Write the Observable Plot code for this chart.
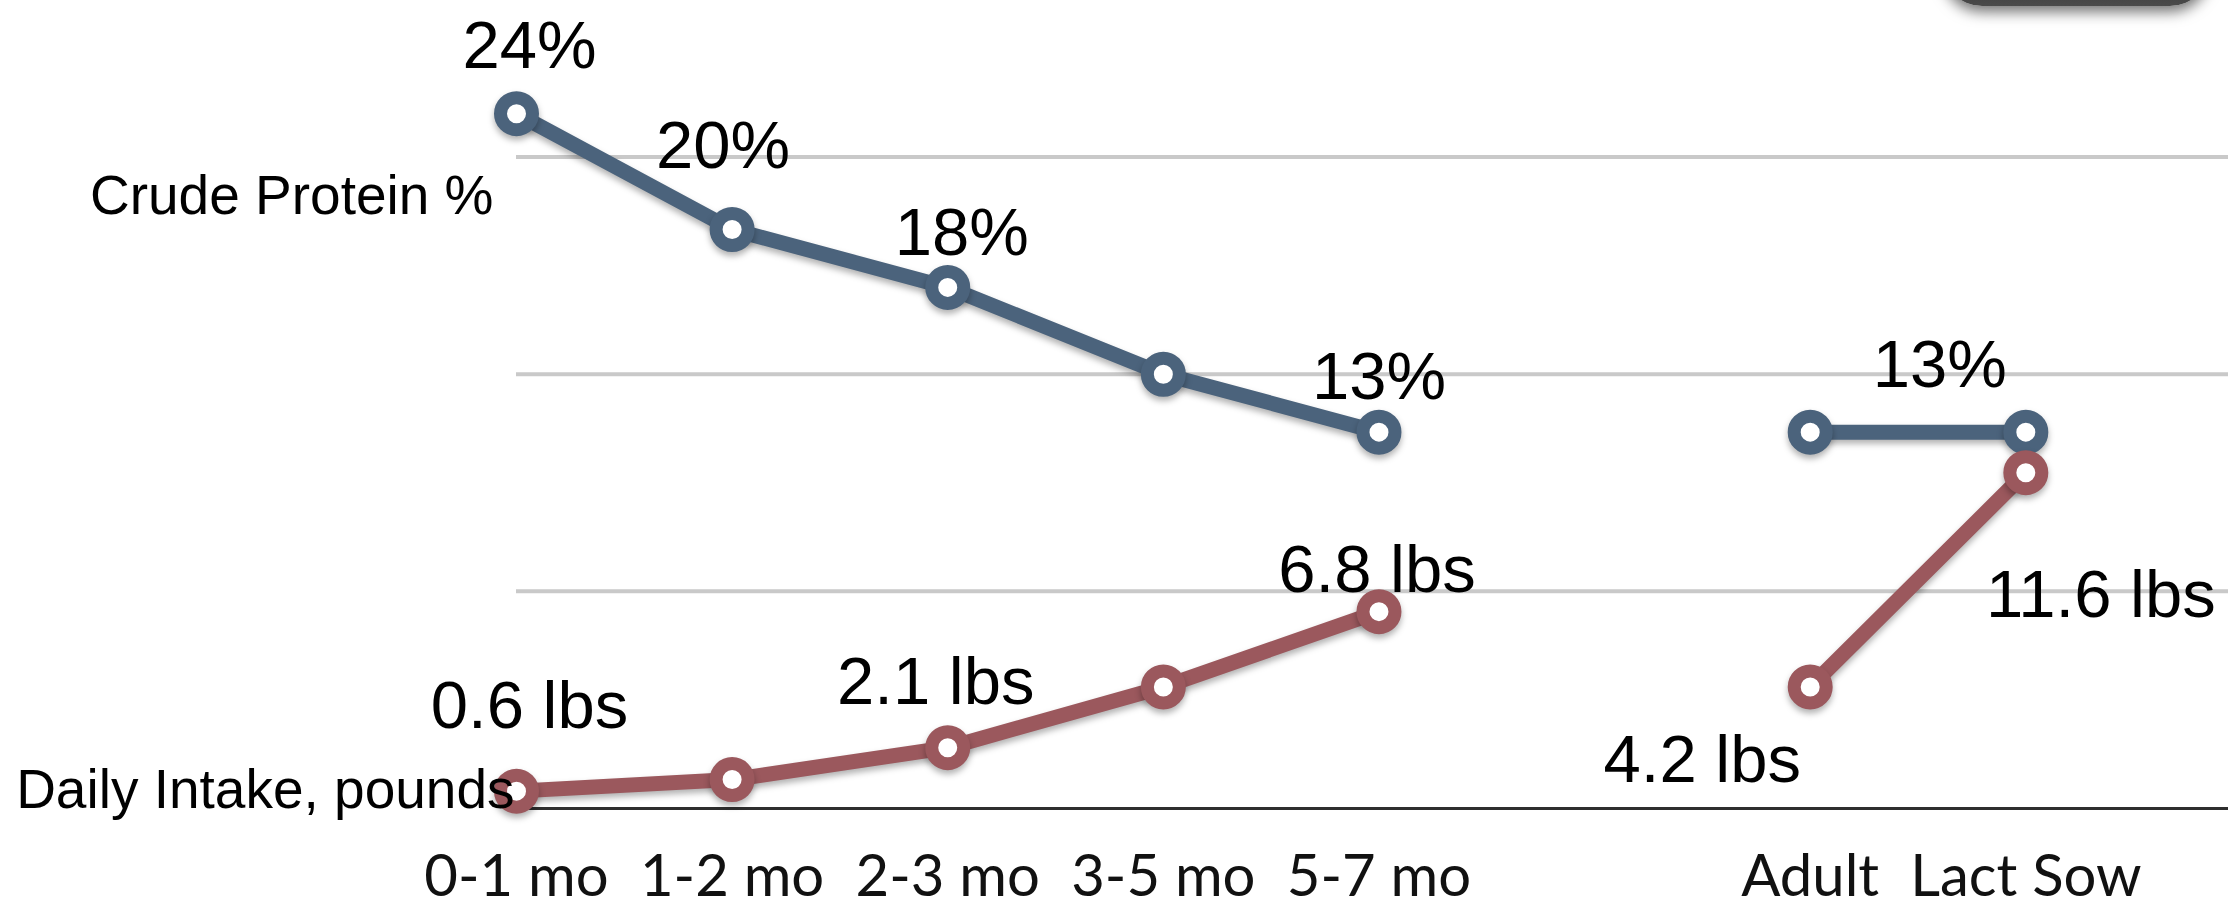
<!DOCTYPE html>
<html>
<head>
<meta charset="utf-8">
<script src="https://cdn.jsdelivr.net/npm/d3@7"></script>
<script src="https://cdn.jsdelivr.net/npm/@observablehq/plot@0.6"></script>
<style>
  body { margin: 0; background: #fff; }
  #wrap { position: relative; width: 2228px; height: 908px; overflow: hidden; }
  #wrap svg { position: absolute; left: 0; top: 0; overflow: visible; }
  .badge { position: absolute; left: 1942px; top: -40px; width: 268px; height: 46px; z-index: 2;
           background: linear-gradient(#2e2e2e, #4a4a4a); border-radius: 0 0 40px 40px;
           box-shadow: 0 6px 14px rgba(0,0,0,0.55); }
  g[aria-label="line"], g[aria-label="dot"] { filter: drop-shadow(0 4px 3px rgba(0,0,0,0.3)); }
</style>
</head>
<body>
<div id="wrap"><div class="badge"></div></div>
<script>
// ---- data ----
const categories = ["0-1 mo", "1-2 mo", "2-3 mo", "3-5 mo", "5-7 mo", "", "Adult", "Lact Sow"];
const stages     = ["0-1 mo", "1-2 mo", "2-3 mo", "3-5 mo", "5-7 mo", "Adult", "Lact Sow"];
const segments   = ["growing", "growing", "growing", "growing", "growing", "adult", "adult"];
const protein    = [24, 20, 18, 15, 13, 13, 13];            // Crude Protein %
const intake     = [0.6, 1.0, 2.1, 4.2, 6.8, 4.2, 11.6];    // Daily Intake, pounds
const proteinLabels = ["24%", "20%", "18%", null, "13%", null, "13%"];
const intakeLabels  = ["0.6 lbs", null, "2.1 lbs", null, "6.8 lbs", "4.2 lbs", "11.6 lbs"];
const gridValues = [7.5, 15, 22.5];
const seriesNames = ["Crude Protein %", "Daily Intake, pounds"];

// ---- label placement (style) ----
const proteinOffsets = [[13, -46], [-9, -61], [14, -32], null, [0, -33], null, [-86, -45]];
const intakeOffsets  = [[13, -63], null, [-12, -44], null, [-2, -20], [-108, 95], [75, 144]];

const blue = "#4b637c";
const red = "#9b585d";

const rows = stages.map((s, i) => ({
  x: categories.indexOf(s), stage: s, seg: segments[i],
  protein: protein[i], intake: intake[i]
}));

const labelFont = "'Liberation Sans', Arial, Helvetica, sans-serif";

function labelMarks(key, labels, offsets) {
  return labels.map((t, i) => t == null ? null : Plot.text([rows[i]], {
    x: "x", y: key, text: () => t,
    dx: offsets[i][0], dy: offsets[i][1],
    lineAnchor: "bottom", textAnchor: "middle",
    fontSize: 67, fontFamily: labelFont, fill: "#000"
  })).filter(Boolean);
}

const chart = Plot.plot({
  width: 2228,
  height: 908,
  marginLeft: 516,
  marginRight: 0,
  marginTop: 0,
  marginBottom: 100,
  x: { type: "linear", domain: [0, 7.94], axis: null, label: null },
  y: { domain: [0, 27.91], axis: null, label: null },
  style: { background: "transparent", overflow: "visible" },
  marks: [
    Plot.gridY(gridValues, { stroke: "#c9c9c9", strokeOpacity: 1, strokeWidth: 4 }),
    Plot.ruleY([0], { stroke: "#2e2e2e", strokeWidth: 3 }),
    Plot.axisX({
      ticks: stages.map(s => categories.indexOf(s)),
      tickFormat: i => categories[i],
      tickSize: 0, tickPadding: 46, label: null,
      fontSize: 58, fontFamily: "Lato, 'Open Sans', sans-serif",
      color: "#111"
    }),
    Plot.line(rows, { x: "x", y: "protein", z: "seg", stroke: blue, strokeWidth: 15, curve: "linear" }),
    Plot.line(rows, { x: "x", y: "intake", z: "seg", stroke: red, strokeWidth: 15, curve: "linear" }),
    Plot.dot(rows, { x: "x", y: "protein", r: 16, fill: "white", stroke: blue, strokeWidth: 13 }),
    Plot.dot(rows, { x: "x", y: "intake", r: 16, fill: "white", stroke: red, strokeWidth: 13 }),
    ...labelMarks("protein", proteinLabels, proteinOffsets),
    ...labelMarks("intake", intakeLabels, intakeOffsets),
    Plot.text([seriesNames[0]], {
      frameAnchor: "top-left", text: d => d, dx: -23, dy: 213,
      textAnchor: "end", lineAnchor: "bottom",
      fontSize: 55, fontFamily: labelFont, fill: "#000"
    }),
    Plot.text([seriesNames[1]], {
      frameAnchor: "bottom-left", text: d => d, dx: -2, dy: -1,
      textAnchor: "end", lineAnchor: "bottom",
      fontSize: 55, fontFamily: labelFont, fill: "#000"
    })
  ]
});

document.getElementById("wrap").appendChild(chart);
</script>
</body>
</html>
